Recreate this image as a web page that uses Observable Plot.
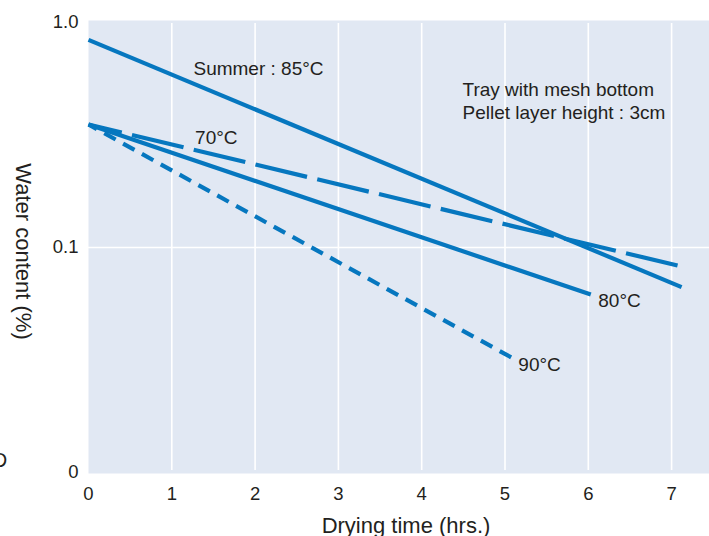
<!DOCTYPE html>
<html>
<head>
<meta charset="utf-8">
<script src="https://cdn.jsdelivr.net/npm/d3@7"></script>
<script src="https://cdn.jsdelivr.net/npm/@observablehq/plot@0.6"></script>
<style>
  html, body { margin: 0; padding: 0; background: #ffffff; }
  svg { overflow: visible; }
</style>
</head>
<body>
<div id="chart"></div>
<script>
// ---- Data ----
const seriesNames = ["Summer 85°C", "70°C", "80°C", "90°C"];
const startTime  = [0, 0, 0, 0];
const endTime    = [7.12, 7.12, 6.03, 5.08];
const startWater = [0.837, 0.352, 0.352, 0.352];
const endWater   = [0.0667, 0.0823, 0.0618, 0.0324];

const xTicks = [0, 1, 2, 3, 4, 5, 6, 7];
const yTicks = [0.01, 0.1, 1];
const yTickLabels = ["0", "0.1", "1.0"];

const labelText  = ["Summer : 85°C", "70°C", "80°C", "90°C", "Tray with mesh bottom", "Pellet layer height : 3cm"];
const labelTime  = [1.26, 1.28, 6.12, 5.16, 4.49, 4.49];
const labelWater = [0.621, 0.308, 0.058, 0.030, 0.501, 0.398];

const xTitle = "Drying time (hrs.)";
const yTitle = "Water content (%)";

// ---- Styles ----
const blue = "#0677bf";
const ink = "#231f20";
const dashStyle = {
  "Summer 85°C": {dash: null, offset: 0},
  "70°C": {dash: "53,10.5", offset: 18.8},
  "80°C": {dash: null, offset: 0},
  "90°C": {dash: "13,8.5", offset: 3.5}
};

const lines = seriesNames.map((name, i) => [
  {series: name, t: startTime[i], w: startWater[i]},
  {series: name, t: endTime[i], w: endWater[i]}
]);
const labels = labelText.map((text, i) => ({text, t: labelTime[i], w: labelWater[i]}));

const chart = Plot.plot({
  width: 709,
  height: 536,
  marginTop: 22,
  marginBottom: 64,
  marginLeft: 88,
  marginRight: 0,
  style: {fontFamily: "'Liberation Sans', Arial, Helvetica, sans-serif", fontSize: "18.5px", color: ink, background: "#ffffff"},
  x: {domain: [0, 7.455]},
  y: {type: "log", domain: [0.01, 1]},
  marks: [
    Plot.frame({fill: "#e1e8f3", stroke: null, insetTop: -2, insetBottom: -1}),
    Plot.ruleX(xTicks.filter(d => d > 0), {stroke: "#ffffff", strokeWidth: 1.6, y1: 0.01, y2: 1, insetTop: -2, insetBottom: -1}),
    Plot.ruleY([0.1], {stroke: "#ffffff", strokeWidth: 1.6}),
    ...lines.map(data => {
      const s = dashStyle[data[0].series];
      return Plot.line(data, {
        x: "t", y: "w", stroke: blue, strokeWidth: 4.2, strokeLinecap: "butt",
        strokeDasharray: s.dash, strokeDashoffset: s.offset
      });
    }),
    Plot.text(labels, {x: "t", y: "w", text: "text", textAnchor: "start", lineAnchor: "middle", fontSize: 19, fill: ink}),
    Plot.axisX({ticks: xTicks, tickSize: 0, tickPadding: 14, tickFormat: d => String(d), label: null, fontSize: 18.5}),
    Plot.axisY({ticks: yTicks, tickSize: 0, tickPadding: 10, tickFormat: d => yTickLabels[yTicks.indexOf(d)], label: null, fontSize: 18.5}),
    Plot.text([xTitle], {frameAnchor: "bottom", dx: 7, dy: 53, textAnchor: "middle", lineAnchor: "middle", fontSize: 22, fill: ink}),
    Plot.text([yTitle], {frameAnchor: "left", dx: -65, dy: 4, rotate: 90, textAnchor: "middle", lineAnchor: "middle", fontSize: 22, fill: ink})
  ]
});

// stray clipped glyph at the left edge of the reference
d3.select(chart).append("text")
  .attr("x", 0).attr("y", 467)
  .attr("fill", ink)
  .attr("font-size", 20)
  .attr("font-family", "'Liberation Sans', Arial, sans-serif")
  .text("D");

document.getElementById("chart").appendChild(chart);
</script>
</body>
</html>
